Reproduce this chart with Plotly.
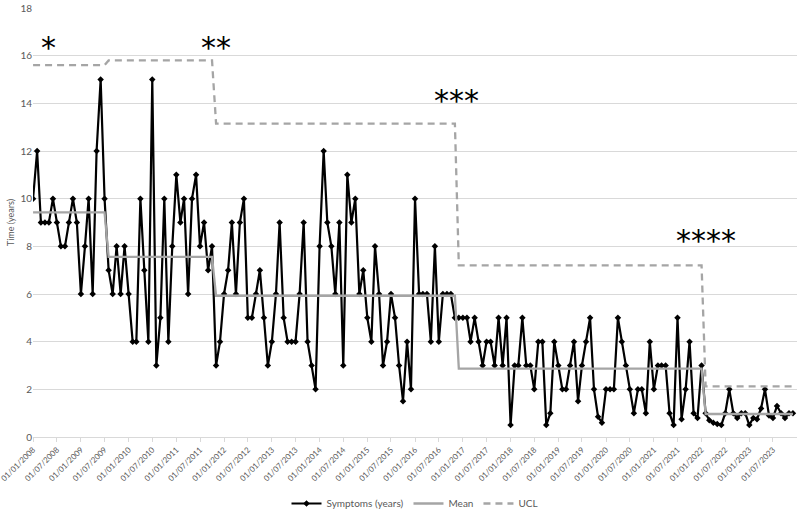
import pandas as pd
import plotly.graph_objects as go

# Monthly values, Jan 2008 - Dec 2023
symptoms = [
    10, 12, 9, 9, 9, 10, 9, 8, 8, 9, 10, 9, 6, 8, 10, 6, 12, 15, 10,
    7, 6, 8, 6, 8, 6, 4, 4, 10, 7, 4, 15, 3, 5, 10, 4, 8, 11, 9, 10, 6, 10, 11, 8, 9, 7, 8,
    3, 4, 6, 7, 9, 6, 9, 10, 5, 5, 6, 7, 5, 3, 4, 6, 9, 5, 4, 4, 4, 6, 9, 4, 3, 2, 8, 12,
    9, 8, 6, 9, 3, 11, 9, 10, 6, 7, 5, 4, 8, 6, 3, 4, 6, 5, 3, 1.5, 4, 2, 10, 6, 6, 6, 4,
    8, 4, 6, 6, 6, 5,
    5, 5, 5, 4, 5, 4, 3, 4, 4, 3, 5, 3, 5, 0.5, 3, 3, 5, 3, 3, 2, 4, 4, 0.5, 1, 4, 3, 2, 2,
    3, 4, 1.5, 3, 4, 5, 2, 0.85, 0.6, 2, 2, 2, 5, 4, 3, 2, 1, 2, 2, 1, 4, 2, 3, 3, 3, 1,
    0.5, 5, 0.75, 2, 4, 1, 0.8, 3,
    1, 0.7, 0.6, 0.55, 0.5, 1, 2, 1, 0.8, 1, 1, 0.5, 0.8, 0.75, 1.2, 2, 0.9, 0.8, 1.3, 1,
    0.8, 1, 1,
]

# phases: first month index of each phase and its upper control limit
phase_start = [0, 19, 46, 107, 169]
phase_ucl = [15.6, 15.8, 13.15, 7.2, 2.12]
phase_marks = ["*", "**", "***", "****"]
mark_dates = ["2008-05-01", "2011-11-01", "2016-11-15", "2022-02-01"]
mark_levels = [16.35, 16.35, 14.1, 8.25]

dates = pd.date_range("2008-01-01", periods=len(symptoms), freq="MS")

mean_line = []
ucl_line = []
bounds = phase_start + [len(symptoms)]
for i in range(len(phase_start)):
    seg = symptoms[bounds[i]:bounds[i + 1]]
    m = sum(seg) / len(seg)
    mean_line += [m] * len(seg)
    ucl_line += [phase_ucl[i]] * len(seg)

tick_dates = pd.date_range("2008-01-01", "2023-07-01", freq="6MS")
tick_text = [d.strftime("%d/%m/%Y") for d in tick_dates]

FONT = "Lato"
GREY = "#a5a5a5"

fig = go.Figure()
fig.add_trace(go.Scatter(
    x=dates, y=symptoms, name="Symptoms (years)", mode="lines+markers",
    line=dict(color="black", width=2.2),
    marker=dict(symbol="diamond", size=5, color="black"),
))
fig.add_trace(go.Scatter(
    x=dates, y=mean_line, name="Mean", mode="lines",
    line=dict(color=GREY, width=2.3),
))
fig.add_trace(go.Scatter(
    x=dates, y=ucl_line, name="UCL", mode="lines",
    line=dict(color=GREY, width=2.3, dash="7px,5px"),
))

for txt, d, lvl in zip(phase_marks, mark_dates, mark_levels):
    fig.add_annotation(
        x=d, y=lvl, text=txt, showarrow=False,
        font=dict(family="DejaVu Sans", size=30, color="black"),
    )

fig.update_layout(
    width=800, height=514,
    margin=dict(l=33, r=3, t=8, b=77, autoexpand=False),
    plot_bgcolor="white", paper_bgcolor="white",
    font=dict(family=FONT, size=10, color="#595959"),
    showlegend=True,
    legend=dict(orientation="h", x=0.5, xanchor="center", y=-0.155, yanchor="middle",
                font=dict(size=10, color="#595959")),
)
fig.update_xaxes(
    type="date", range=["2007-12-31 12:00", "2024-01-01"],
    tickvals=tick_dates, ticktext=tick_text, tickangle=-45,
    showgrid=False, showline=True, linecolor="#d9d9d9",
    ticks="outside", ticklen=4, tickcolor="#d9d9d9",
    tickfont=dict(size=8, color="#595959"), automargin=False,
    ticklabeloverflow="allow",
)
fig.update_yaxes(
    range=[0, 18], dtick=2, showgrid=True, gridcolor="#d9d9d9",
    zeroline=False, showline=False, automargin=False,
    title=dict(text="Time (years)", font=dict(size=9, color="#595959"), standoff=4),
    tickfont=dict(size=10, color="#595959"),
)

# drop the browser's default page margin so the figure fills the window
fig.write_html("out.html", config={"displayModeBar": False},
               post_script="document.body.style.margin = '0';")
